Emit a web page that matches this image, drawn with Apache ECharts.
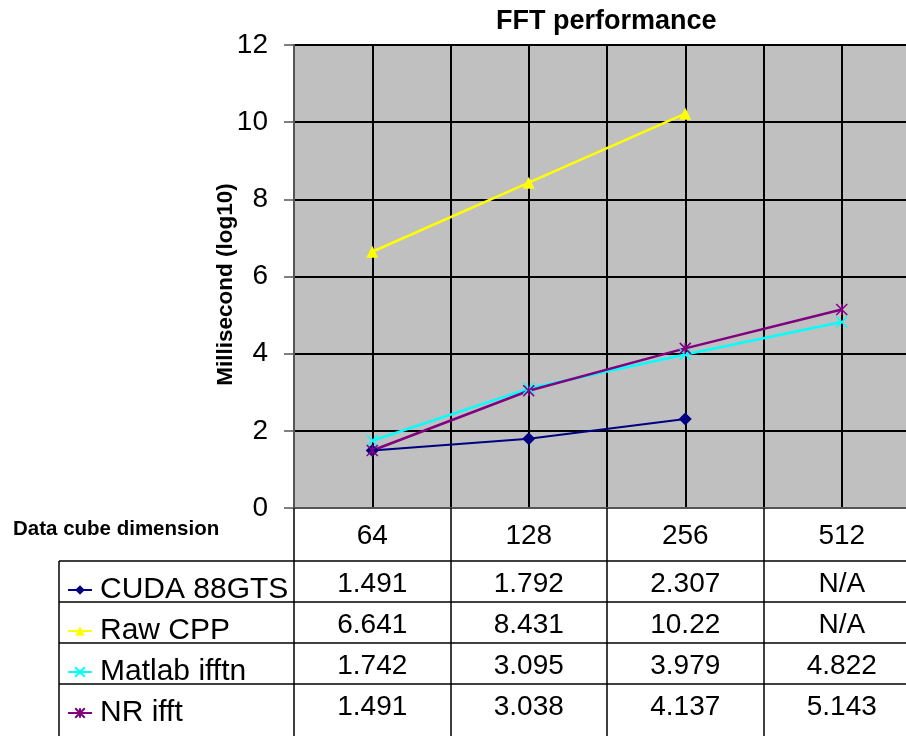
<!DOCTYPE html>
<html>
<head>
<meta charset="utf-8">
<script src="https://cdn.jsdelivr.net/npm/echarts@6/dist/echarts.min.js"></script>
<style>
  html, body { margin: 0; padding: 0; background: #ffffff; overflow: hidden; }
  /* the plot runs a little past the right edge of the window */
  #chart { width: 930px; height: 736px; }
</style>
</head>
<body>
<div id="chart"></div>
<script>
// FFT timings (log10 of milliseconds) per data cube dimension
const categories = ['64', '128', '256', '512'];
const seriesNames = ['CUDA 88GTS', 'Raw CPP', 'Matlab ifftn', 'NR ifft'];
const cudaValues = [1.491, 1.792, 2.307, null];
const rawCppValues = [6.641, 8.431, 10.22, null];
const matlabValues = [1.742, 3.095, 3.979, 4.822];
const nrValues = [1.491, 3.038, 4.137, 5.143];
const yMin = 0, yMax = 12, yStep = 2;
const yAxisTitle = 'Millisecond (log10)';

const FONT = '"Liberation Sans", Arial, sans-serif';
const colors = ['#000080', '#FFFF00', '#00FFFF', '#800080'];
const symbols = [
  'diamond',
  'triangle',
  'path://M0,0L10,10M10,0L0,10',
  'path://M0,0L10,10M10,0L0,10M5,0L5,10'
];
const symbolSizes = [13, 12, 11, 11];
const allValues = [cudaValues, rawCppValues, matlabValues, nrValues];

const chart = echarts.init(document.getElementById('chart'), null, { renderer: 'canvas' });

const series = seriesNames.map((name, i) => ({
  name: name,
  type: 'line',
  xAxisIndex: 0,
  yAxisIndex: 0,
  data: allValues[i],
  connectNulls: false,
  symbol: symbols[i],
  symbolSize: symbolSizes[i],
  showAllSymbol: true,
  lineStyle: { color: colors[i], width: i === 0 ? 2 : 2.5 },
  itemStyle: { color: colors[i], borderColor: colors[i], borderWidth: i >= 2 ? 1.5 : 0 },
  emphasis: { disabled: true },
  animation: false
}));

chart.setOption({
  animation: false,
  backgroundColor: '#ffffff',
  title: [
    {
      text: 'FFT performance',
      left: 491, top: 3,
      textStyle: { fontFamily: FONT, fontSize: 27, fontWeight: 'bold', color: '#000' }
    },
    {
      text: 'Data cube dimension',
      left: 8, top: 514,
      textStyle: { fontFamily: FONT, fontSize: 20.5, fontWeight: 'bold', color: '#000' }
    }
  ],
  legend: {
    orient: 'vertical',
    left: 67, top: 575,
    padding: 0,
    itemGap: 11,
    itemWidth: 24, itemHeight: 12,
    selectedMode: false,
    textStyle: { fontFamily: FONT, fontSize: 30, color: '#000', lineHeight: 28, padding: [0, 0, 0, 3] },
    data: seriesNames
  },
  grid: {
    left: 294, top: 45, width: 626, height: 463,
    show: true, backgroundColor: '#C0C0C0', borderWidth: 0
  },
  xAxis: [
    {
      type: 'category',
      data: categories,
      boundaryGap: true,
      axisLine: { show: true, lineStyle: { color: '#555', width: 2 } },
      axisTick: { show: true, length: 228, lineStyle: { color: '#000', width: 1.5 } },
      axisLabel: { margin: 14, fontFamily: FONT, fontSize: 28, color: '#000' },
      splitLine: { show: false }
    },
    {
      // extra axis giving vertical grid lines at category centres and edges
      type: 'value',
      min: 0, max: 8, interval: 1,
      position: 'top',
      axisLine: { show: false },
      axisTick: { show: false },
      axisLabel: { show: false },
      splitLine: { show: true, lineStyle: { color: '#000', width: 2 } }
    }
  ],
  yAxis: {
    type: 'value',
    min: yMin, max: yMax, interval: yStep,
    axisLine: { show: true, lineStyle: { color: '#555', width: 2 } },
    axisTick: { show: true, length: 10, lineStyle: { color: '#555', width: 1.5 } },
    axisLabel: { margin: 26, fontFamily: FONT, fontSize: 28, color: '#000' },
    splitLine: { show: true, lineStyle: { color: '#000', width: 2 } }
  },
  series: series
});

const graphics = [];

// vertical value-axis title
graphics.push({
  type: 'text', silent: true,
  x: 226, y: 284.5,
  rotation: Math.PI / 2,
  style: {
    text: yAxisTitle,
    fontFamily: FONT, fontSize: 22.5, fontWeight: 'bold', fill: '#000',
    textAlign: 'center', textVerticalAlign: 'middle'
  }
});

// Data table below the plot: values per series row, centred under each category
const tableTop = 561, rowH = 41, tableLeft = 59, tableRight = 930, tableBottom = 736;
for (let r = 0; r < seriesNames.length; r++) {
  const y = tableTop + r * rowH;
  graphics.push({
    type: 'line', silent: true,
    shape: { x1: tableLeft, y1: y, x2: tableRight, y2: y },
    style: { stroke: '#000', lineWidth: 1.5 }
  });
  allValues[r].forEach((v, c) => {
    const x = chart.convertToPixel({ xAxisIndex: 0 }, categories[c]);
    graphics.push({
      type: 'text', silent: true,
      x: x, y: y + rowH / 2 + 3,
      style: {
        text: v === null ? 'N/A' : String(v),
        fontFamily: FONT, fontSize: 28, fill: '#000',
        textAlign: 'center', textVerticalAlign: 'middle'
      }
    });
  });
}
graphics.push({
  type: 'line', silent: true,
  shape: { x1: tableLeft, y1: tableTop, x2: tableLeft, y2: tableBottom },
  style: { stroke: '#000', lineWidth: 1.5 }
});
chart.setOption({ graphic: graphics });
</script>
</body>
</html>
